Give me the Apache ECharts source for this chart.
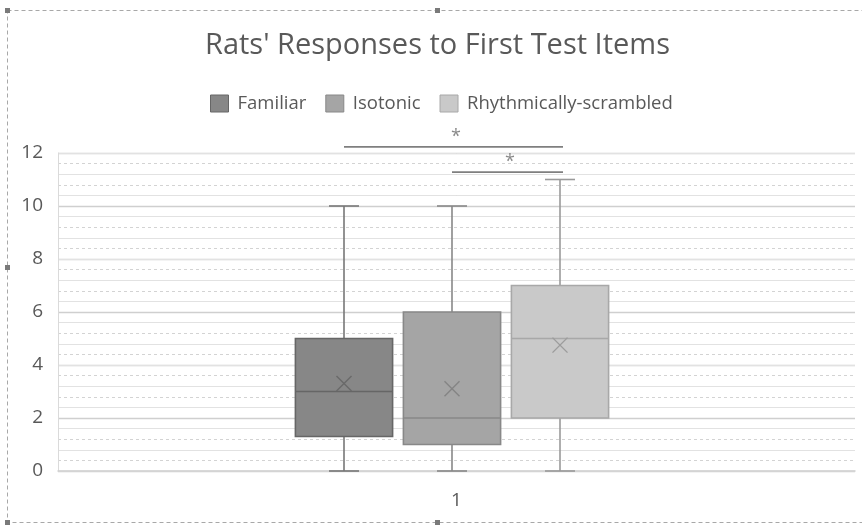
<!DOCTYPE html>
<html>
<head>
<meta charset="utf-8">
<script src="https://cdn.jsdelivr.net/npm/echarts@6/dist/echarts.min.js"></script>
<style>
  html, body { margin: 0; padding: 0; background: #ffffff; }
  #chart { width: 862px; height: 525px; }
</style>
</head>
<body>
<div id="chart"></div>
<script>
// Box-plot summaries of first-test-item responses, one group per stimulus type
const groups   = ['Familiar', 'Isotonic', 'Rhythmically-scrambled'];
const mins     = [0, 0, 0];
const q1s      = [1.3, 1, 2];
const medians  = [3, 2, 5];
const q3s      = [5, 6, 7];
const maxs     = [10, 10, 11];
const means    = [3.3, 3.1, 4.75];
const category = ['1'];
const yTicks   = [0, 2, 4, 6, 8, 10, 12];

// Significance brackets: [from group, to group, height]
const brackets = [[0, 2, 12.23], [1, 2, 11.28]];
const bracketMark = '*';

const fills   = ['#878787', '#a5a5a5', '#c9c9c9'];
const borders = ['#666666', '#888888', '#a8a8a8'];
const whiskerColors = ['#777777', '#888888', '#9a9a9a'];
const meanColors = ['#6a6a6a', '#848484', '#9c9c9c'];

const FONT = '"Open Sans", "Liberation Sans", sans-serif';
const TEXT = '#595959';

function boxRenderer(idx) {
  return function (params, api) {
    const x = api.value(0);
    const bw = api.size([1, 0])[0] * 0.9;
    const cx = api.coord([x, 0])[0];
    const yMin = api.coord([x, api.value(1)])[1];
    const yQ1 = api.coord([x, api.value(2)])[1];
    const yMed = api.coord([x, api.value(3)])[1];
    const yQ3 = api.coord([x, api.value(4)])[1];
    const yMax = api.coord([x, api.value(5)])[1];
    const yMean = api.coord([x, api.value(6)])[1];
    const cap = 15, xs = 7.5;
    const wStyle = { stroke: whiskerColors[idx], lineWidth: 1.6, fill: null };
    return {
      type: 'group',
      children: [
        { type: 'line', shape: { x1: cx, y1: yQ3, x2: cx, y2: yMax }, style: wStyle },
        { type: 'line', shape: { x1: cx - cap, y1: yMax, x2: cx + cap, y2: yMax }, style: wStyle },
        { type: 'line', shape: { x1: cx, y1: yQ1, x2: cx, y2: yMin }, style: wStyle },
        { type: 'line', shape: { x1: cx - cap, y1: yMin, x2: cx + cap, y2: yMin }, style: wStyle },
        {
          type: 'rect',
          shape: { x: cx - bw / 2, y: yQ3, width: bw, height: yQ1 - yQ3 },
          style: { fill: fills[idx], stroke: borders[idx], lineWidth: 1.6 }
        },
        { type: 'line', shape: { x1: cx - bw / 2, y1: yMed, x2: cx + bw / 2, y2: yMed },
          style: { stroke: borders[idx], lineWidth: 1.6 } },
        { type: 'line', shape: { x1: cx - xs, y1: yMean - xs, x2: cx + xs, y2: yMean + xs },
          style: { stroke: meanColors[idx], lineWidth: 1.4 } },
        { type: 'line', shape: { x1: cx - xs, y1: yMean + xs, x2: cx + xs, y2: yMean - xs },
          style: { stroke: meanColors[idx], lineWidth: 1.4 } }
      ]
    };
  };
}

function bracketRenderer(params, api) {
  const a = api.coord([api.value(0), api.value(2)]);
  const b = api.coord([api.value(1), api.value(2)]);
  return {
    type: 'group',
    children: [
      { type: 'line', shape: { x1: a[0], y1: a[1], x2: b[0] + 3, y2: b[1] },
        style: { stroke: '#7f7f7f', lineWidth: 1.8 } },
      { type: 'text', x: (a[0] + b[0]) / 2 + 4, y: a[1] - 1,
        style: { text: bracketMark, fill: '#8a8a8a', font: '18px ' + FONT,
                 align: 'center', verticalAlign: 'bottom' } }
    ]
  };
}

const boxSeries = groups.map((name, i) => ({
  name: name,
  type: 'custom',
  xAxisIndex: 1,
  yAxisIndex: 2,
  itemStyle: { color: fills[i] },
  renderItem: boxRenderer(i),
  encode: { x: 0, y: [1, 2, 3, 4, 5, 6] },
  data: [[i, mins[i], q1s[i], medians[i], q3s[i], maxs[i], means[i]]],
  z: 3
}));

const chart = echarts.init(document.getElementById('chart'), null, { renderer: 'canvas' });
chart.setOption({
  backgroundColor: '#ffffff',
  animation: false,
  title: {
    text: "Rats' Responses to First Test Items",
    left: 200,
    top: 26,
    textStyle: { fontFamily: FONT, fontSize: 29, fontWeight: 'normal', color: TEXT }
  },
  legend: {
    top: 89,
    left: 205,
    icon: 'rect',
    itemWidth: 18,
    itemHeight: 17,
    itemGap: 19,
    textStyle: { fontFamily: FONT, fontSize: 18.5, color: TEXT, padding: [0, 0, 0, 4] },
    data: groups.map((g, i) => ({
      name: g,
      itemStyle: { color: fills[i], borderColor: borders[i], borderWidth: 1 }
    }))
  },
  grid: [
    { left: 58, right: 7, top: 153, bottom: 54 },
    { left: 290, right: 248, top: 153, bottom: 54 }
  ],
  xAxis: [
    {
      type: 'category',
      gridIndex: 0,
      data: category,
      axisLine: { lineStyle: { color: '#d0d0d0', width: 1.5 } },
      axisTick: { show: false },
      axisLabel: { fontFamily: FONT, fontSize: 19, color: TEXT, margin: 20 },
      splitLine: { show: false }
    },
    {
      type: 'category',
      gridIndex: 1,
      data: groups,
      show: false
    }
  ],
  yAxis: [
    {
      type: 'value',
      gridIndex: 0,
      min: yTicks[0],
      max: yTicks[yTicks.length - 1],
      interval: 2,
      axisLine: { show: true, lineStyle: { color: '#dadada', width: 1 } },
      axisTick: { show: false },
      axisLabel: { fontFamily: FONT, fontSize: 19, color: TEXT, margin: 15 },
      splitLine: { lineStyle: { color: '#cfcfcf', width: 1.4 } },
      minorTick: { show: false, splitNumber: 5 },
      minorSplitLine: { show: true, lineStyle: { color: '#d3d3d3', width: 1, type: [3, 3] } }
    },
    {
      type: 'value',
      gridIndex: 0,
      min: 0,
      max: 12,
      interval: 0.8,
      axisLine: { show: false },
      axisTick: { show: false },
      axisLabel: { show: false },
      splitLine: { lineStyle: { color: '#e2e2e2', width: 1 } }
    },
    {
      type: 'value',
      gridIndex: 1,
      min: 0,
      max: 12,
      show: false,
      splitLine: { show: false }
    }
  ],
  series: boxSeries.concat([{
    name: 'brackets',
    type: 'custom',
    xAxisIndex: 1,
    yAxisIndex: 2,
    renderItem: bracketRenderer,
    encode: { x: [0, 1], y: 2 },
    data: brackets,
    z: 4,
    silent: true
  }]),
  graphic: [
    {
      type: 'rect',
      shape: { x: 7.5, y: 10.5, width: 900, height: 512 },
      style: { fill: null, stroke: '#a8a8a8', lineWidth: 1, lineDash: [4, 3] },
      silent: true
    },
    { type: 'rect', shape: { x: 5, y: 8, width: 5, height: 5 }, style: { fill: '#7a7a7a' }, silent: true },
    { type: 'rect', shape: { x: 435, y: 8, width: 5, height: 5 }, style: { fill: '#7a7a7a' }, silent: true },
    { type: 'rect', shape: { x: 5, y: 265, width: 5, height: 5 }, style: { fill: '#7a7a7a' }, silent: true },
    { type: 'rect', shape: { x: 5, y: 520, width: 5, height: 5 }, style: { fill: '#7a7a7a' }, silent: true },
    { type: 'rect', shape: { x: 435, y: 520, width: 5, height: 5 }, style: { fill: '#7a7a7a' }, silent: true }
  ]
});
</script>
</body>
</html>
